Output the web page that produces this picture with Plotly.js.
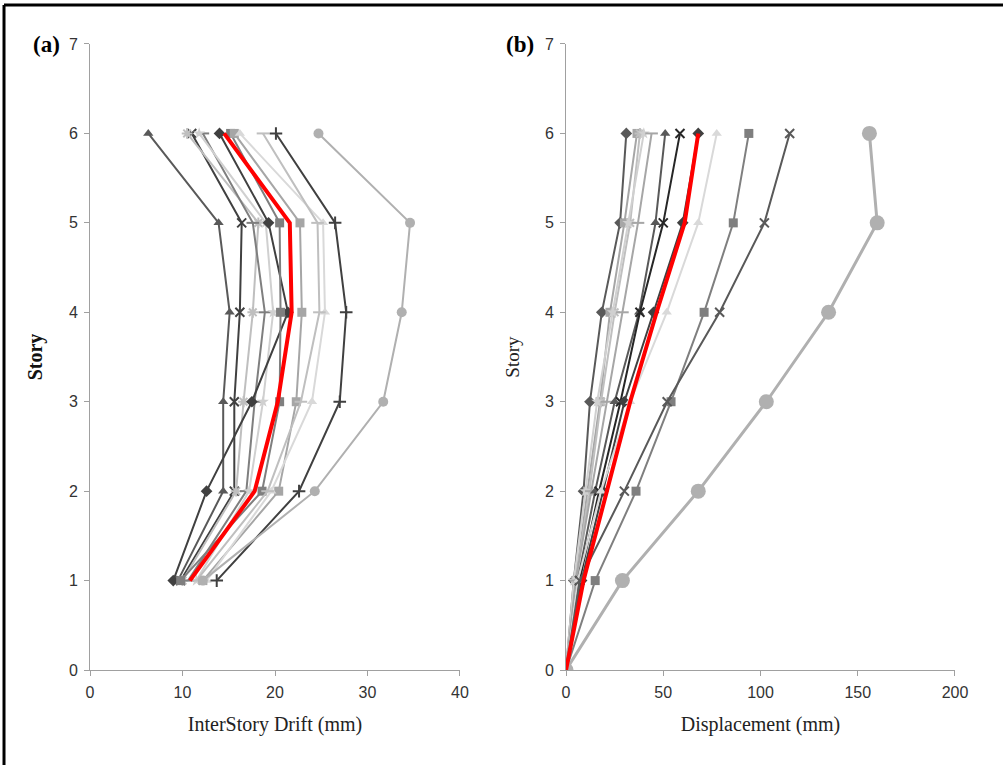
<!DOCTYPE html>
<html>
<head>
<meta charset="utf-8">
<script src="https://cdn.plot.ly/plotly-3.0.1.min.js"></script>
<style>
html,body{margin:0;padding:0;background:#fff;}
#chart{width:1003px;height:765px;}
</style>
</head>
<body>
<div id="chart"></div>
<script>
// ---------- DATA ----------
const storiesA = [1, 2, 3, 4, 5, 6];
const storiesB = [0, 1, 2, 3, 4, 5, 6];

// (a) inter-story drift (mm), stories 1..6
const driftTriangleDark = [9.5, 14.4, 14.4, 15.1, 13.9, 6.3];
const driftXDark       = [9.8, 15.6, 15.6, 16.2, 16.4, 11.0];
const driftAsterisk    = [10.0, 15.8, 16.6, 17.6, 18.2, 10.5];
const driftDash        = [10.6, 16.9, 17.8, 18.9, 17.6, 12.2];
const driftStarLight   = [11.5, 17.2, 18.7, 19.8, 19.0, 11.8];
const driftDiamondDark = [9.0, 12.6, 17.5, 21.4, 19.3, 14.0];
const driftSquareGray  = [9.8, 18.6, 20.5, 20.6, 20.5, 15.2];
const driftSquareLight = [12.2, 20.4, 22.3, 22.9, 22.7, 15.6];
const driftTriangleLt  = [12.6, 19.6, 24.0, 25.4, 25.2, 16.2];
const driftDashLight   = [11.5, 19.2, 22.8, 24.8, 24.6, 18.7];
const driftPlus        = [13.7, 22.6, 27.0, 27.7, 26.5, 20.1];
const driftCircle      = [12.2, 24.3, 31.7, 33.7, 34.6, 24.7];
const driftMean        = [10.8, 17.8, 20.3, 21.8, 21.6, 14.5];

// (b) displacement (mm), stories 0..6
const dispDiamondGray  = [0, 4, 9, 12.3, 18.4, 27.8, 31];
const dispSquareLight  = [0, 5, 11, 17.5, 22.6, 30, 36.5];
const dispAsterisk     = [0, 5, 12, 18, 25, 33, 38];
const dispStarLight    = [0, 4, 10, 16, 24, 32, 40];
const dispDash         = [0, 5, 13, 21, 29, 37, 44];
const dispTriangleDark = [0, 6, 15, 25, 37.6, 46, 51];
const dispXDark        = [0, 7, 17, 28, 38, 50, 58.6];
const dispDiamondDark  = [0, 8, 19, 30, 45, 60, 68];
const dispTriangleLt   = [0, 6, 18, 33, 51.8, 68, 77.5];
const dispSquareGray   = [0, 15, 36, 54, 71, 86, 94];
const dispXGray        = [0, 7, 30, 52, 79, 102, 115];
const dispCircle       = [0, 29, 68, 103, 135, 160, 156];
const dispMean         = [0, 9, 21, 33, 46.6, 61, 68];

const xTicksA = [0, 10, 20, 30, 40];
const xTicksB = [0, 50, 100, 150, 200];
const yTicks = [0, 1, 2, 3, 4, 5, 6, 7];

// ---------- STYLE ----------
function tr(x, y, xa, ya, color, symbol, opts) {
  opts = opts || {};
  const open = /open/.test(symbol);
  return {
    x: x, y: y, xaxis: xa, yaxis: ya, type: 'scatter', mode: 'lines+markers',
    line: {color: color, width: opts.lw || 2},
    marker: {symbol: symbol, size: opts.ms || 9, color: color,
             line: {width: open ? 2 : 0, color: color}},
    showlegend: false, hoverinfo: 'skip'
  };
}

const traces = [
  tr(driftTriangleDark, storiesA, 'x', 'y', '#595959', 'triangle-up'),
  tr(driftXDark, storiesA, 'x', 'y', '#404040', 'x-thin-open'),
  tr(driftAsterisk, storiesA, 'x', 'y', '#bfbfbf', 'asterisk-open'),
  tr(driftDash, storiesA, 'x', 'y', '#7f7f7f', 'line-ew-open'),
  tr(driftStarLight, storiesA, 'x', 'y', '#d0d0d0', 'star'),
  tr(driftDiamondDark, storiesA, 'x', 'y', '#404040', 'diamond'),
  tr(driftSquareGray, storiesA, 'x', 'y', '#7f7f7f', 'square'),
  tr(driftSquareLight, storiesA, 'x', 'y', '#a6a6a6', 'square'),
  tr(driftTriangleLt, storiesA, 'x', 'y', '#d9d9d9', 'triangle-up'),
  tr(driftDashLight, storiesA, 'x', 'y', '#bfbfbf', 'line-ew-open'),
  tr(driftPlus, storiesA, 'x', 'y', '#404040', 'cross-thin-open'),
  tr(driftCircle, storiesA, 'x', 'y', '#b0b0b0', 'circle', {ms: 10}),
  {x: driftMean, y: storiesA, xaxis: 'x', yaxis: 'y', type: 'scatter', mode: 'lines',
   line: {color: '#ff0000', width: 4}, showlegend: false, hoverinfo: 'skip'},

  tr(dispDiamondGray, storiesB, 'x2', 'y2', '#595959', 'diamond'),
  tr(dispSquareLight, storiesB, 'x2', 'y2', '#a6a6a6', 'square'),
  tr(dispAsterisk, storiesB, 'x2', 'y2', '#bfbfbf', 'asterisk-open'),
  tr(dispStarLight, storiesB, 'x2', 'y2', '#d0d0d0', 'star'),
  tr(dispDash, storiesB, 'x2', 'y2', '#a6a6a6', 'line-ew-open'),
  tr(dispTriangleDark, storiesB, 'x2', 'y2', '#595959', 'triangle-up'),
  tr(dispXDark, storiesB, 'x2', 'y2', '#262626', 'x-thin-open'),
  tr(dispDiamondDark, storiesB, 'x2', 'y2', '#404040', 'diamond'),
  tr(dispTriangleLt, storiesB, 'x2', 'y2', '#d9d9d9', 'triangle-up'),
  tr(dispSquareGray, storiesB, 'x2', 'y2', '#7f7f7f', 'square'),
  tr(dispXGray, storiesB, 'x2', 'y2', '#595959', 'x-thin-open'),
  tr(dispCircle, storiesB, 'x2', 'y2', '#b0b0b0', 'circle', {ms: 15, lw: 3}),
  {x: dispMean, y: storiesB, xaxis: 'x2', yaxis: 'y2', type: 'scatter', mode: 'lines',
   line: {color: '#ff0000', width: 4}, showlegend: false, hoverinfo: 'skip'}
];

const axisCommon = {
  showgrid: false, zeroline: false, showline: true, linecolor: '#a0a0a0', linewidth: 1,
  ticks: 'outside', ticklen: 5, tickcolor: '#a0a0a0', tickwidth: 1,
  ticklabelstandoff: 3,
  tickfont: {family: 'Liberation Sans, Arial, sans-serif', size: 16, color: '#333'}
};
const serif = 'Liberation Serif, Times New Roman, serif';

const layout = {
  width: 1003, height: 765,
  margin: {l: 20, r: 20, t: 20, b: 20},
  paper_bgcolor: '#fff', plot_bgcolor: '#fff',
  showlegend: false,
  xaxis: Object.assign({}, axisCommon, {
    domain: [0.0727, 0.4569], range: [0, 40], tickvals: xTicksA, anchor: 'y',
    title: {text: 'InterStory Drift (mm)', font: {family: serif, size: 20, color: '#222'}, standoff: 16}
  }),
  yaxis: Object.assign({}, axisCommon, {
    domain: [0.1034, 0.9669], range: [0, 7], tickvals: yTicks, anchor: 'x',
    title: {text: '<b>Story</b>', font: {family: serif, size: 20, color: '#111'}, standoff: 20}
  }),
  xaxis2: Object.assign({}, axisCommon, {
    domain: [0.567, 0.9709], range: [0, 200], tickvals: xTicksB, anchor: 'y2',
    title: {text: 'Displacement (mm)', font: {family: serif, size: 20, color: '#222'}, standoff: 16}
  }),
  yaxis2: Object.assign({}, axisCommon, {
    domain: [0.1034, 0.9669], range: [0, 7], tickvals: yTicks, anchor: 'x2',
    title: {text: 'Story', font: {family: serif, size: 19, color: '#222'}, standoff: 20}
  }),
  annotations: [
    {text: '<b>(a)</b>', xref: 'paper', yref: 'paper', x: 0.027, y: 0.966, xanchor: 'center', yanchor: 'middle',
     showarrow: false, font: {family: serif, size: 23, color: '#000'}},
    {text: '<b>(b)</b>', xref: 'paper', yref: 'paper', x: 0.519, y: 0.966, xanchor: 'center', yanchor: 'middle',
     showarrow: false, font: {family: serif, size: 23, color: '#000'}}
  ],
  shapes: [
    {type: 'line', xref: 'paper', yref: 'paper', x0: -0.0166, x1: 1.03, y0: 1.0207, y1: 1.0207,
     line: {color: '#000', width: 3}},
    {type: 'line', xref: 'paper', yref: 'paper', x0: -0.0166, x1: -0.0166, y0: -0.03, y1: 1.0207,
     line: {color: '#000', width: 3}}
  ]
};

Plotly.newPlot('chart', traces, layout, {displayModeBar: false, staticPlot: true});
</script>
</body>
</html>
